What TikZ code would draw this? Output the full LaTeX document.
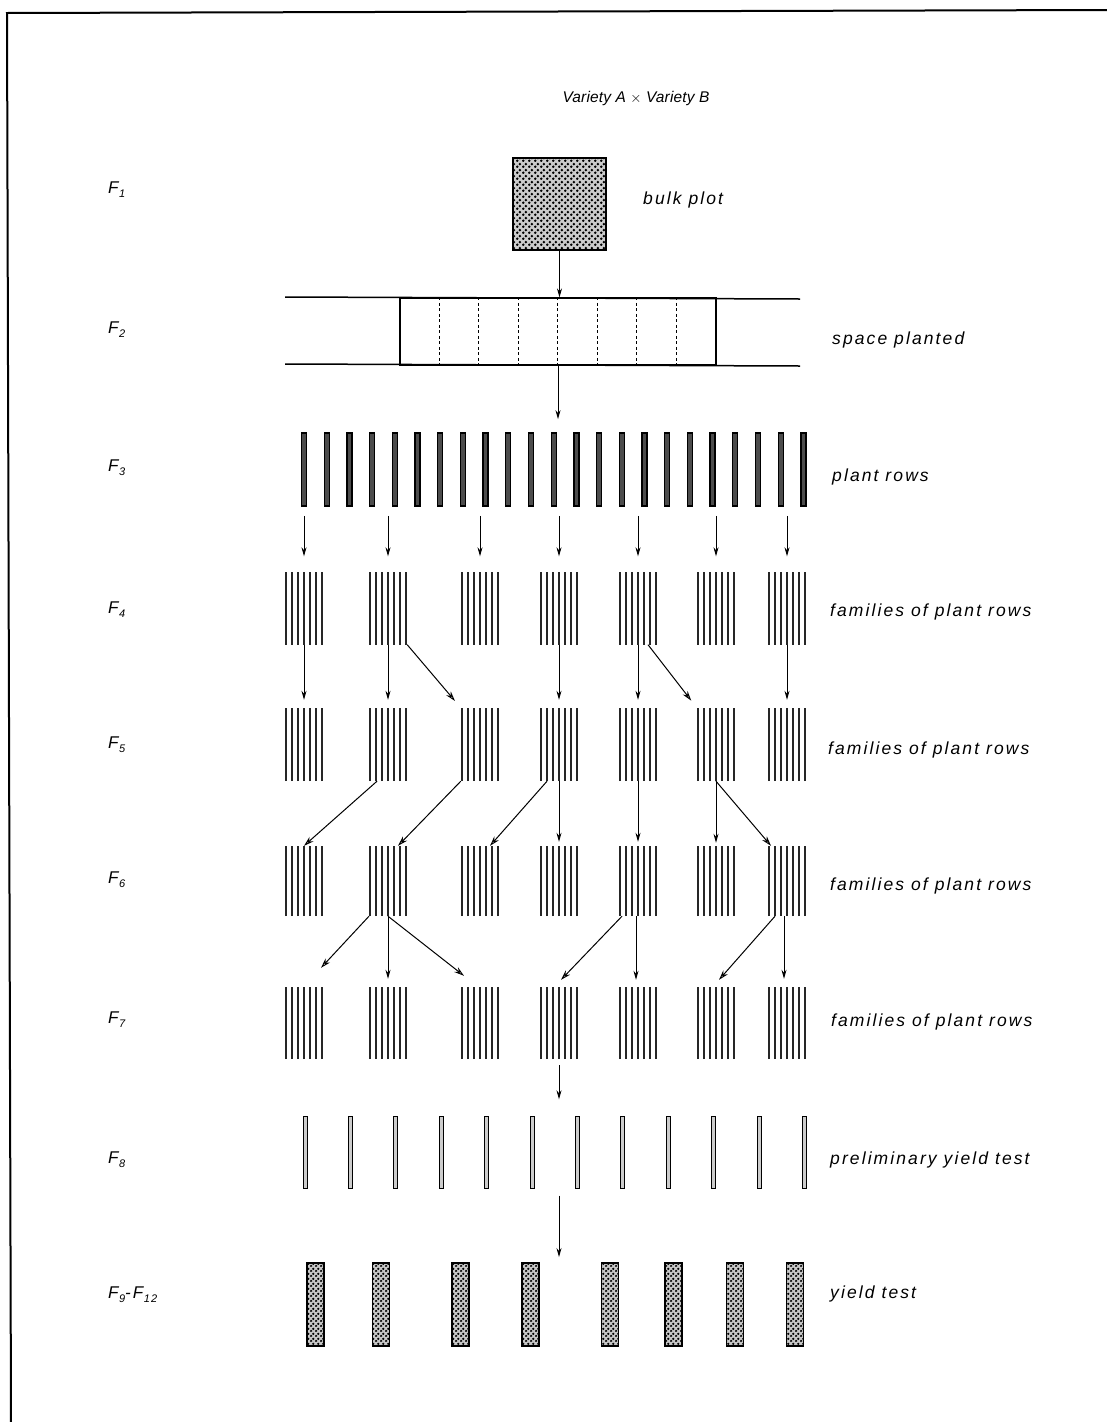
\documentclass[tikz,border=0pt]{standalone}
\usepackage{fontspec}
\setmainfont{Liberation Sans}
\newfontfamily\labff[LetterSpace=12]{Liberation Sans}
\newfontfamily\titff[LetterSpace=1]{Liberation Sans}
\usetikzlibrary{arrows.meta,patterns,fit}
\pgfdeclarepatternformonly{bigdots}{\pgfpointorigin}{\pgfpoint{6pt}{6pt}}{\pgfpoint{6pt}{6pt}}{%
  \pgfpathcircle{\pgfpoint{1.5pt}{1.5pt}}{1.6pt}%
  \pgfpathcircle{\pgfpoint{4.5pt}{4.5pt}}{1.6pt}%
  \pgfusepath{fill}}
\pgfdeclarepatternformonly{smalldots}{\pgfpointorigin}{\pgfpoint{5pt}{5pt}}{\pgfpoint{5pt}{5pt}}{%
  \pgfpathcircle{\pgfpoint{1.25pt}{1.25pt}}{1.4pt}%
  \pgfpathcircle{\pgfpoint{3.75pt}{3.75pt}}{1.4pt}%
  \pgfusepath{fill}}
\newcommand{\Fsub}[1]{F\kern0.5pt{\fontsize{11}{12}\selectfont\raisebox{-4pt}{#1}}}
\begin{document}
\begin{tikzpicture}[x=1pt,y=-1pt,
  lab/.style={font=\labff\itshape\fontsize{17.5}{20}\selectfont, anchor=west, inner sep=0pt},
  gen/.style={font=\labff\itshape\fontsize{17}{20}\selectfont, anchor=west, inner sep=0pt},
  grp/.style={minimum width=38pt, minimum height=73pt, inner sep=0pt,
    path picture={\foreach \k in {0,...,6}{\draw[line width=1.05pt, black!85]
      ([xshift=\k*6pt+1pt]path picture bounding box.south west) --
      ([xshift=\k*6pt+1pt]path picture bounding box.north west);}}},
  rowa/.style={draw, line width=1.3pt, fill=black!70, minimum width=5pt, minimum height=73pt, inner sep=0pt},
  rowb/.style={draw, line width=1pt, fill=gray!40, minimum width=4pt, minimum height=72pt, inner sep=0pt},
  ytest/.style={draw, line width=1.5pt, fill=gray!45, postaction={pattern=smalldots}, minimum width=17pt, minimum height=83pt, inner sep=0pt},
  arr/.style={-{Stealth[length=9pt,width=5pt]}, line width=1pt},
  oarr/.style={-{Stealth[length=10pt,width=6pt,open]}, line width=1pt}]
\useasboundingbox (0,0) rectangle (1107,1422);
% frame
\draw[line width=2pt] (11,1422) -- (7,13) -- (1107,10);
% title
\node[font=\titff\itshape\fontsize{15.5}{18}\selectfont, inner sep=0pt] (title) at (636,98) {Variety A $\times$ Variety B};
% generation labels
\node[gen] (l1) at (108,190) {\Fsub{1}};
\node[gen] (l2) at (108,330) {\Fsub{2}};
\node[gen] (l3) at (108,468) {\Fsub{3}};
\node[gen] (l4) at (108,610) {\Fsub{4}};
\node[gen] (l5) at (108,745) {\Fsub{5}};
\node[gen] (l6) at (108,880) {\Fsub{6}};
\node[gen] (l7) at (108,1020) {\Fsub{7}};
\node[gen] (l8) at (108,1160) {\Fsub{8}};
\node[gen] (l9) at (108,1295) {\Fsub{9}-\Fsub{12}};
% right labels
\node[lab] (t1) at (643,200) {bulk plot};
\node[lab] (t2) at (832,340) {space planted};
\node[lab] (t3) at (832,477) {plant rows};
\node[lab] (t4) at (830,612) {families of plant rows};
\node[lab] (t5) at (828,750) {families of plant rows};
\node[lab] (t6) at (830,886) {families of plant rows};
\node[lab] (t7) at (831,1022) {families of plant rows};
\node[lab] (t8) at (830,1160) {preliminary yield test};
\node[lab] (t9) at (830,1294) {yield test};
% F1 bulk plot
\node[draw, line width=1.6pt, fill=gray!40, postaction={pattern=bigdots}, minimum width=93pt, minimum height=92pt, inner sep=0pt] (bulk) at (559.5,204) {};
% F2 space planted
\draw[line width=1.5pt] (285,297) -- (800,299);
\draw[line width=1.5pt] (285,364) -- (800,366);
\node[draw, line width=1.2pt, minimum width=316pt, minimum height=67pt, inner sep=0pt] (sp) at (558,331.5) {};
\foreach \k in {1,...,7}{\draw[line width=0.8pt, dash pattern=on 3pt off 2.5pt]
  ([xshift=\k*39.5pt]sp.north west) -- ([xshift=\k*39.5pt]sp.south west);}
% F3 plant rows
\foreach \i in {0,...,22}{\node[rowa] (r3n\i) at ({304+22.7*\i},469.5) {};}
\node[fit=(r3n0)(r3n22), inner sep=0pt] (f3) {};
% family groups
\foreach \c/\n in {304/a,388/b,480/c,559/d,638/e,716/f,787/g}{
  \node[grp] (g4\n) at (\c,608) {};
  \node[grp] (g5\n) at (\c,744.5) {};
  \node[grp, minimum height=70pt] (g6\n) at (\c,881) {};
  \node[grp, minimum height=72pt] (g7\n) at (\c,1023) {};
}
% F8 rows
\foreach \i in {0,...,11}{\node[rowb] (r8n\i) at ({305+45.4*\i},1152) {};}
\node[fit=(r8n0)(r8n11), inner sep=0pt] (f8) {};
% F9-F12 yield test plots
\foreach \c [count=\i] in {315.5,381,460.5,530.5,610,673.5,735,795}{\node[ytest] (y\i) at (\c,1304.5) {};}
\node[fit=(y1)(y8), inner sep=0pt] (f9) {};
% arrows
\draw[arr] (bulk.south) -- (bulk.south |- sp.north);
\draw[arr, shorten >=13pt] (sp.south) -- (sp.south |- f3.north);
\foreach \n in {a,b,c,d,e,f,g}{\draw[arr, shorten <=9pt, shorten >=15pt] (f3.south -| g4\n) -- (g4\n.north);}
% F4 -> F5
\foreach \n in {a,b,d,e,g}{\draw[arr, shorten >=8pt] (g4\n.south) -- (g5\n.north);}
\draw[oarr, shorten >=9pt] (g4b.south east) -- (g5c.north west);
\draw[oarr, shorten >=9pt] ([xshift=10pt]g4e.south) -- (g5f.north west);
% F5 -> F6
\draw[oarr] ([xshift=-11pt]g5b.south) -- (g6a.north);
\draw[oarr] (g5c.south west) -- ([xshift=10pt]g6b.north);
\draw[oarr] ([xshift=-12pt]g5d.south) -- ([xshift=10pt]g6c.north);
\draw[arr, shorten >=4pt] (g5d.south) -- (g6d.north);
\draw[arr, shorten >=4pt] (g5e.south) -- (g6e.north);
\draw[arr, shorten >=3pt] (g5f.south) -- (g6f.north);
\draw[oarr] (g5f.south) -- ([xshift=-16pt]g6g.north);
% F6 -> F7
\draw[oarr] ([xshift=-19pt]g6b.south) -- ([xshift=17pt,yshift=19pt]g7a.north);
\draw[arr] (g6b.south) -- ([yshift=8pt]g7b.north);
\draw[oarr] (g6b.south) -- ([xshift=-16pt,yshift=11pt]g7c.north);
\draw[oarr] ([xshift=-16pt]g6e.south) -- ([xshift=2pt,yshift=7pt]g7d.north);
\draw[arr] ([xshift=-2pt]g6e.south) -- ([xshift=-2pt,yshift=7pt]g7e.north);
\draw[oarr] ([xshift=-12pt]g6g.south) -- ([xshift=3pt,yshift=7pt]g7f.north);
\draw[arr] ([xshift=-3pt]g6g.south) -- ([xshift=-3pt,yshift=8pt]g7g.north);
% F7 -> F8 -> F9
\draw[arr, shorten <=6pt, shorten >=16pt] (g7d.south) -- (g7d.south |- f8.north);
\draw[arr, shorten <=7pt, shorten >=5pt] (f8.south -| g7d) -- (f9.north -| g7d);
\end{tikzpicture}
\end{document}
